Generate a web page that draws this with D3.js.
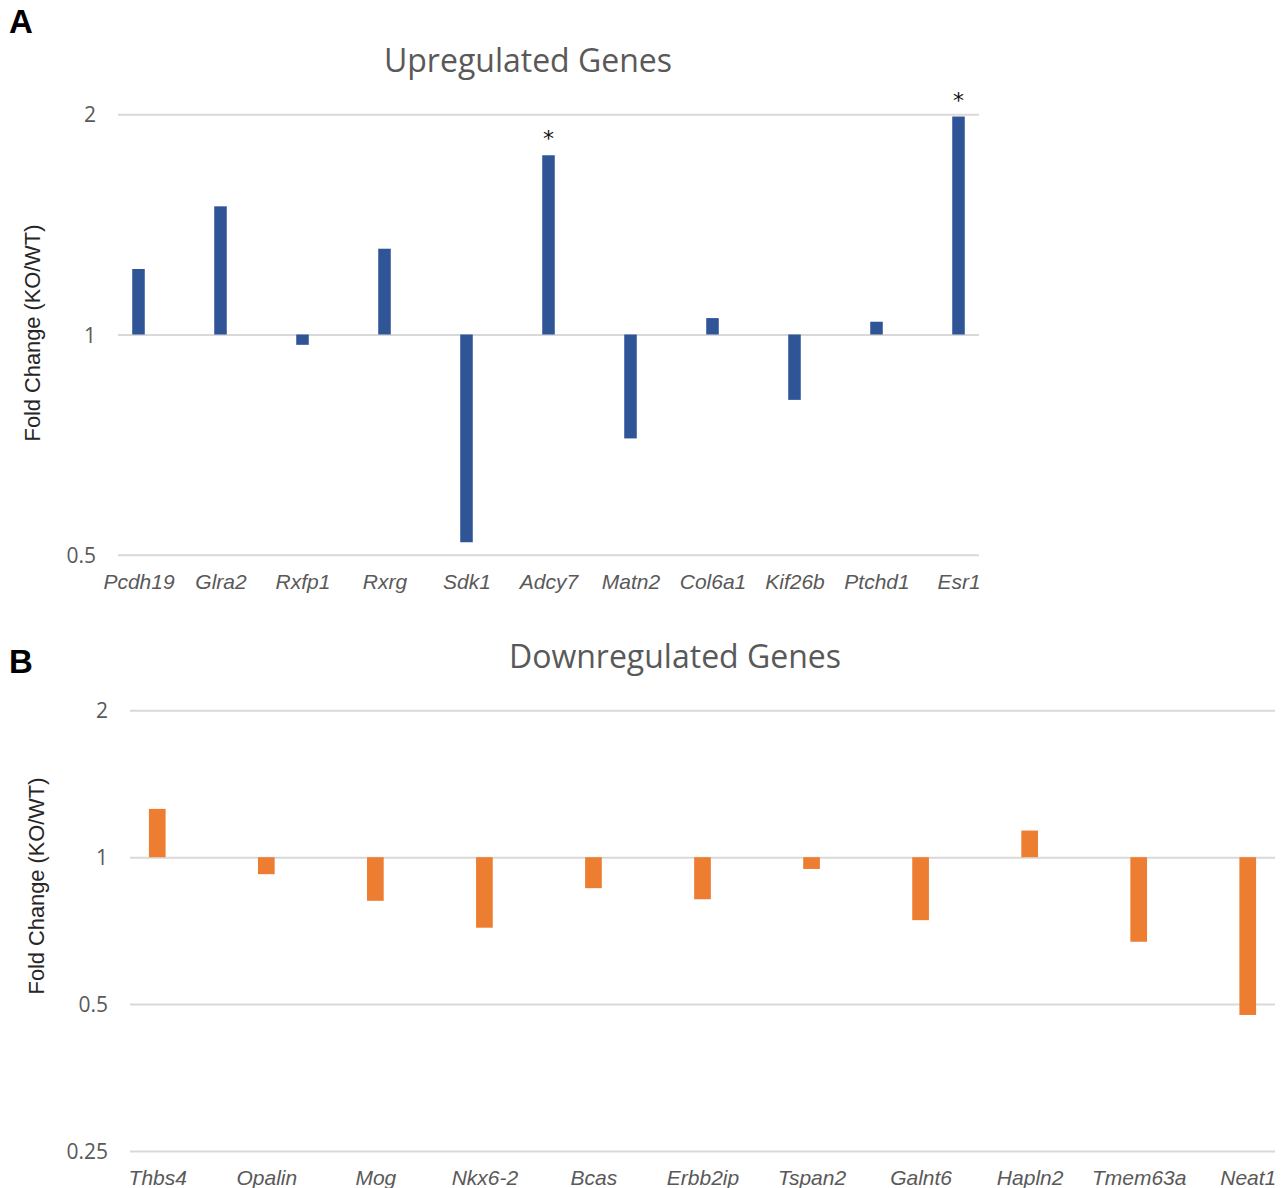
<!DOCTYPE html>
<html>
<head>
<meta charset="utf-8">
<script src="https://cdn.jsdelivr.net/npm/d3@7"></script>
<style>
  html, body { margin: 0; padding: 0; background: #fff; }
  svg { display: block; }
</style>
</head>
<body>
<svg id="chart" width="1287" height="1188"></svg>
<script>
// Panel A: upregulated genes, fold change KO/WT
const upGenes = ["Pcdh19", "Glra2", "Rxfp1", "Rxrg", "Sdk1", "Adcy7", "Matn2", "Col6a1", "Kif26b", "Ptchd1", "Esr1"];
const upFold = [1.229, 1.497, 0.968, 1.31, 0.520, 1.758, 0.721, 1.053, 0.814, 1.041, 1.986];
const upSignificant = ["Adcy7", "Esr1"];
const upTicks = [0.5, 1, 2];

// Panel B: downregulated genes, fold change KO/WT
const downGenes = ["Thbs4", "Opalin", "Mog", "Nkx6-2", "Bcas", "Erbb2ip", "Tspan2", "Galnt6", "Hapln2", "Tmem63a", "Neat1"];
const downFold = [1.256, 0.923, 0.814, 0.717, 0.864, 0.82, 0.946, 0.743, 1.134, 0.671, 0.475];
const downSignificant = [];
const downTicks = [0.25, 0.5, 1, 2];

const svg = d3.select("#chart");

function panel(opts) {
  const g = svg.append("g");
  const data = opts.genes.map((gname, i) => ({ gene: gname, value: opts.values[i] }));

  const x = d3.scalePoint().domain(opts.genes).range([opts.left, opts.right]).padding(0.25);
  const y = d3.scaleLog().base(2).domain(opts.domain).range([opts.bottom, opts.top]);
  const barW = x.step() * 0.153;

  // gridlines + tick labels
  const yAxis = d3.axisLeft(y)
    .tickValues(opts.ticks)
    .tickFormat(d => String(d))
    .tickSizeInner(-(opts.right - opts.left))
    .tickSizeOuter(0)
    .tickPadding(22);
  const ya = g.append("g").attr("transform", `translate(${opts.left},0)`).call(yAxis);
  ya.select(".domain").remove();
  ya.selectAll(".tick line").attr("stroke", "#d9d9d9").attr("stroke-width", 2);
  ya.selectAll(".tick text")
    .attr("fill", "#595959")
    .attr("font-family", "'Open Sans', sans-serif")
    .attr("font-size", 21)
    .attr("dy", "0.36em");

  // bars from the baseline at 1
  g.append("g").selectAll("rect").data(data).join("rect")
    .attr("x", d => x(d.gene) - barW / 2)
    .attr("width", barW)
    .attr("y", d => Math.min(y(d.value), y(1)))
    .attr("height", d => Math.abs(y(d.value) - y(1)))
    .attr("fill", opts.color);

  // significance marks
  g.append("g").selectAll("text").data(data.filter(d => opts.significant.includes(d.gene))).join("text")
    .attr("x", d => x(d.gene))
    .attr("y", d => y(d.value) - 9)
    .attr("text-anchor", "middle")
    .attr("font-family", "'DejaVu Sans', sans-serif")
    .attr("font-size", 22)
    .attr("fill", "#111")
    .text("*");

  // category labels
  const xAxis = d3.axisBottom(x).tickSize(0).tickPadding(19);
  const xa = g.append("g").attr("transform", `translate(0,${opts.bottom})`).call(xAxis);
  xa.select(".domain").remove();
  xa.selectAll(".tick text")
    .attr("fill", "#595959")
    .attr("font-family", "'Liberation Sans', Arial, sans-serif")
    .attr("font-style", "italic")
    .attr("font-size", 21);

  // chart title
  g.append("text")
    .attr("x", opts.titleX)
    .attr("y", opts.titleY)
    .attr("text-anchor", "middle")
    .attr("font-family", "'Open Sans', sans-serif")
    .attr("font-size", 32)
    .attr("fill", "#595959")
    .text(opts.title);

  // y-axis title
  g.append("text")
    .attr("transform", `translate(${opts.yTitleX},${opts.yTitleY}) rotate(-90)`)
    .attr("text-anchor", "middle")
    .attr("font-family", "'Liberation Sans', Arial, sans-serif")
    .attr("font-size", 21.8)
    .attr("fill", "#262626")
    .attr("dy", "0.35em")
    .text("Fold Change (KO/WT)");

  // panel letter
  g.append("text")
    .attr("x", 9)
    .attr("y", opts.letterY)
    .attr("font-family", "'Liberation Sans', Arial, sans-serif")
    .attr("font-weight", "bold")
    .attr("font-size", 33)
    .attr("fill", "#000")
    .text(opts.letter);
}

panel({
  genes: upGenes, values: upFold, significant: upSignificant, ticks: upTicks,
  domain: [0.5, 2], left: 118, right: 979, top: 114.3, bottom: 554.7,
  color: "#2F5597", title: "Upregulated Genes", titleX: 528, titleY: 72,
  yTitleX: 32, yTitleY: 333, letter: "A", letterY: 33
});

panel({
  genes: downGenes, values: downFold, significant: downSignificant, ticks: downTicks,
  domain: [0.25, 2], left: 130, right: 1275, top: 710.3, bottom: 1151,
  color: "#ED7D31", title: "Downregulated Genes", titleX: 675, titleY: 668,
  yTitleX: 36, yTitleY: 886, letter: "B", letterY: 673
});
</script>
</body>
</html>
